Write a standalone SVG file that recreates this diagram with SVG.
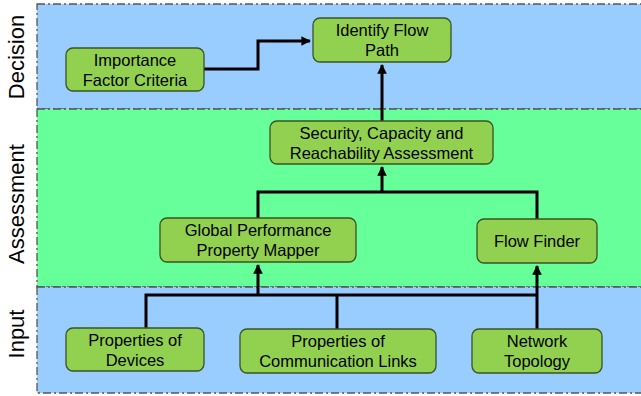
<svg xmlns="http://www.w3.org/2000/svg" width="641" height="396" viewBox="0 0 641 396">
<defs>
<style>
.band{stroke:#555;stroke-width:1.3;stroke-dasharray:8 3 2 3}
.node rect{fill:#92D050;stroke:#3B5323;stroke-width:1.3}
.node text{font-family:"Liberation Sans",Arial,sans-serif;font-size:16.5px;fill:#000;text-anchor:middle}
.lane{font-family:"Liberation Sans",Arial,sans-serif;font-size:22px;fill:#000;text-anchor:middle}
.conn path{fill:none;stroke:#000;stroke-width:3}
</style>
<marker id="ah" viewBox="0 0 10 10" refX="9" refY="5" markerWidth="3.2" markerHeight="3.2" orient="auto" markerUnits="strokeWidth">
<path d="M0,0 L10,5 L0,10 z" fill="#000"/>
</marker>
</defs>
<rect width="641" height="396" fill="#fff"/>
<g id="bands">
<rect class="band" x="37" y="4" width="610" height="105" fill="#99CCFF"/>
<rect class="band" x="37" y="109" width="610" height="178" fill="#66FF99"/>
<rect class="band" x="37" y="287" width="610" height="106" fill="#99CCFF"/>
</g>
<g id="lanes">
<text class="lane" transform="translate(24,57) rotate(-90)">Decision</text>
<text class="lane" transform="translate(24,204) rotate(-90)">Assessment</text>
<text class="lane" transform="translate(24,334) rotate(-90)">Input</text>
</g>
<g class="conn" id="connectors">
<path d="M204,69 H258 V41 H310" marker-end="url(#ah)"/>
<path d="M382,121 V65" marker-end="url(#ah)"/>
<path d="M258,218 V192 H537 V219"/>
<path d="M382,192 V167" marker-end="url(#ah)"/>
<path d="M146,328 V295 H537"/>
<path d="M337,329 V295"/>
<path d="M258,295 V265" marker-end="url(#ah)"/>
<path d="M537,329 V266" marker-end="url(#ah)"/>
</g>
<g class="node" id="importance">
<rect x="66" y="48" width="138" height="43" rx="7"/>
<text x="135" y="65.5">Importance</text>
<text x="135" y="85.5">Factor Criteria</text>
</g>
<g class="node" id="identify">
<rect x="313" y="18" width="138" height="44" rx="7"/>
<text x="382" y="36">Identify Flow</text>
<text x="382" y="56">Path</text>
</g>
<g class="node" id="security">
<rect x="270" y="121" width="223" height="43" rx="7"/>
<text x="381.5" y="138.5">Security, Capacity and</text>
<text x="381.5" y="158.5">Reachability Assessment</text>
</g>
<g class="node" id="global">
<rect x="160" y="218" width="196" height="44" rx="7"/>
<text x="258" y="235.5">Global Performance</text>
<text x="258" y="255.5">Property Mapper</text>
</g>
<g class="node" id="flowfinder">
<rect x="477" y="219" width="120" height="44" rx="7"/>
<text x="537" y="246.5">Flow Finder</text>
</g>
<g class="node" id="devices">
<rect x="66" y="328" width="138" height="43" rx="7"/>
<text x="135" y="345.5">Properties of</text>
<text x="135" y="365.5">Devices</text>
</g>
<g class="node" id="links">
<rect x="240" y="329" width="196" height="44" rx="7"/>
<text x="338" y="346.5">Properties of</text>
<text x="338" y="366.5">Communication Links</text>
</g>
<g class="node" id="topology">
<rect x="472" y="329" width="130" height="44" rx="7"/>
<text x="537" y="346.5">Network</text>
<text x="537" y="366.5">Topology</text>
</g>
</svg>
